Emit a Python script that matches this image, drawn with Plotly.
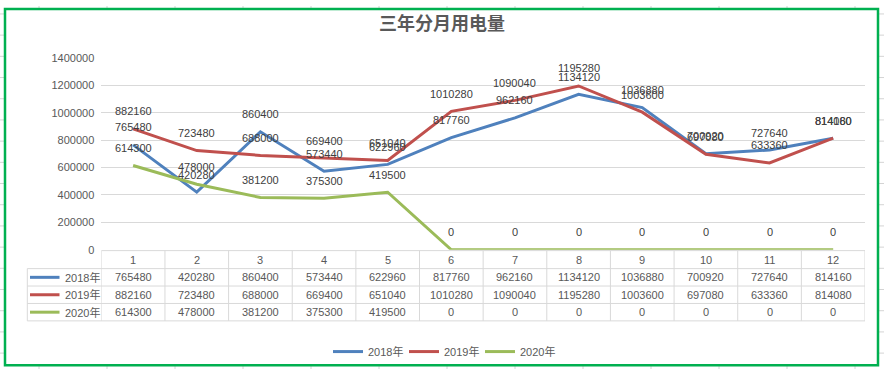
import plotly.graph_objects as go

months = ["1", "2", "3", "4", "5", "6", "7", "8", "9", "10", "11", "12"]
series_names = ["2018年", "2019年", "2020年"]
v2018 = [765480, 420280, 860400, 573440, 622960, 817760, 962160, 1134120, 1036880, 700920, 727640, 814160]
v2019 = [882160, 723480, 688000, 669400, 651040, 1010280, 1090040, 1195280, 1003600, 697080, 633360, 814080]
v2020 = [614300, 478000, 381200, 375300, 419500, 0, 0, 0, 0, 0, 0, 0]
colors = ["#4F81BD", "#C0504D", "#9BBB59"]
title_text = "三年分月用电量"
y_ticks = [0, 200000, 400000, 600000, 800000, 1000000, 1200000, 1400000]

W, H = 884, 375
FONT = "Liberation Sans, Noto Sans CJK SC, sans-serif"


def px(x):
    return x / W


def py(y):
    return 1 - y / H


series = [v2018, v2019, v2020]
xs = list(range(len(months)))

fig = go.Figure()
for name, vals, col in zip(series_names, series, colors):
    fig.add_trace(go.Scatter(x=xs, y=vals, mode="lines", name=name,
                             line=dict(color=col, width=3), hoverinfo="skip"))

shapes = []
# spreadsheet background grid
gx = 39
while gx < W:
    shapes.append(dict(type="line", xref="paper", yref="paper", x0=px(gx), x1=px(gx), y0=0, y1=1,
                       line=dict(color="#D4D4D4", width=1), layer="below"))
    gx += 68
gy = 8.2
while gy < H:
    shapes.append(dict(type="line", xref="paper", yref="paper", x0=0, x1=1, y0=py(gy), y1=py(gy),
                       line=dict(color="#D4D4D4", width=1), layer="below"))
    gy += 21.9
# chart area with green border
shapes.append(dict(type="rect", xref="paper", yref="paper", x0=px(5), x1=px(878), y0=py(371), y1=py(3),
                   fillcolor="white", line=dict(color="#00B050", width=2.5), layer="below"))

# data table grid
tcol = "#D9D9D9"
t_top, t_hdr, t_rows = 252.7, 271.3, [289.3, 307.3, 325.3]
t_left = 27.3
shapes.append(dict(type="line", xref="x", yref="paper", x0=-0.5, x1=len(months) - 0.5,
                   y0=py(t_top), y1=py(t_top), line=dict(color=tcol, width=1)))
for yy in [t_hdr] + t_rows:
    shapes.append(dict(type="line", xref="paper", yref="paper", x0=px(t_left), x1=px(865),
                       y0=py(yy), y1=py(yy), line=dict(color=tcol, width=1)))
shapes.append(dict(type="line", xref="paper", yref="paper", x0=px(t_left), x1=px(t_left),
                   y0=py(t_hdr), y1=py(t_rows[-1]), line=dict(color=tcol, width=1)))
for i in range(len(months) + 1):
    shapes.append(dict(type="line", xref="x", yref="paper", x0=i - 0.5, x1=i - 0.5,
                       y0=py(t_top), y1=py(t_rows[-1]), line=dict(color=tcol, width=1)))
# legend keys inside the table
row_centers = [280.3, 298.3, 316.3]
for col, yc in zip(colors, row_centers):
    shapes.append(dict(type="line", xref="paper", yref="paper", x0=px(30), x1=px(59.5),
                       y0=py(yc), y1=py(yc), line=dict(color=col, width=3)))

annotations = []
# data labels
for vals in series:
    for i, v in enumerate(vals):
        annotations.append(dict(x=i, y=v, xref="x", yref="y", text=str(v), showarrow=False,
                                yshift=17.5, font=dict(family=FONT, size=11, color="#404040")))
# table header
for i, m in enumerate(months):
    annotations.append(dict(x=i, y=py(262), xref="x", yref="paper", text=m, showarrow=False,
                            yanchor="middle", font=dict(family=FONT, size=11, color="#595959")))
# table rows
for name, vals, yc in zip(series_names, series, row_centers):
    annotations.append(dict(x=px(63), y=py(yc), xref="paper", yref="paper", text=name, showarrow=False,
                            xanchor="left", yanchor="middle", font=dict(family=FONT, size=11, color="#595959")))
    for i, v in enumerate(vals):
        annotations.append(dict(x=i, y=py(yc), xref="x", yref="paper", text=str(v), showarrow=False,
                                yanchor="middle", font=dict(family=FONT, size=11, color="#595959")))

fig.update_layout(
    width=W, height=H,
    margin=dict(l=0, r=0, t=0, b=0),
    paper_bgcolor="white",
    plot_bgcolor="rgba(0,0,0,0)",
    title=dict(text="<b>" + title_text + "</b>", x=0.5, xanchor="center", y=py(24), yanchor="middle",
               font=dict(family="Noto Sans CJK SC, sans-serif", size=18, color="#595959")),
    xaxis=dict(domain=[px(101.3), px(865)], range=[-0.5, len(months) - 0.5], showticklabels=False,
               showgrid=False, zeroline=False, showline=False, fixedrange=True),
    yaxis=dict(domain=[py(251.8), py(53.6)], range=[0, 1400000], tickvals=y_ticks,
               ticktext=[str(t) for t in y_ticks], showgrid=True, gridcolor="#D9D9D9", gridwidth=1,
               zeroline=False, showline=False, ticks="", ticklabelstandoff=6,
               tickfont=dict(family=FONT, size=11, color="#595959"), fixedrange=True),
    legend=dict(orientation="h", x=0.5, xanchor="center", y=py(357), yanchor="middle",
                font=dict(family=FONT, size=11, color="#595959"), bgcolor="rgba(0,0,0,0)",
                itemwidth=30, tracegroupgap=0, entrywidth=31, entrywidthmode="pixels"),
    shapes=shapes,
    annotations=annotations,
    showlegend=True,
)

fig.write_html("out.html", config={"displayModeBar": False},
               post_script="document.body.style.margin='0';document.body.style.overflow='hidden';")
